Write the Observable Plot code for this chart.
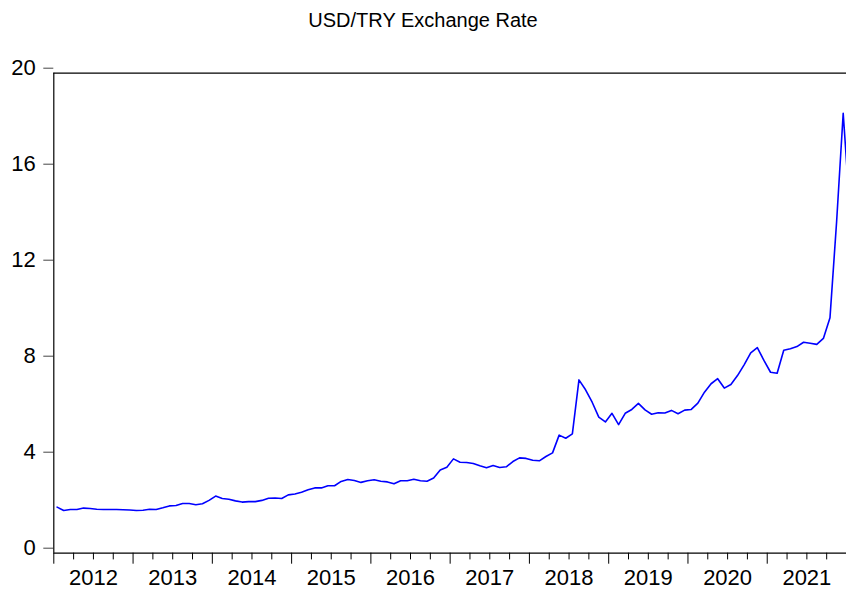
<!DOCTYPE html>
<html><head><meta charset="utf-8">
<script src="https://cdn.jsdelivr.net/npm/d3@7"></script>
<script src="https://cdn.jsdelivr.net/npm/@observablehq/plot@0.6"></script>
<style>
body{margin:0;background:#fff;overflow:hidden;font-family:"Liberation Sans",Arial,sans-serif;}
#title{width:846px;height:44px;line-height:40px;text-align:center;font-size:20px;color:#000;}
#chart svg{display:block;}
</style></head><body>
<div id="title">USD/TRY Exchange Rate</div>
<div id="chart"></div>
<script>
const startYear = 2012;
const yearLabels = ["2012","2013","2014","2015","2016","2017","2018","2019","2020","2021"];
const yTicks = [0, 4, 8, 12, 16, 20];
// monthly values, Jan 2012 .. Jan 2022
const usdtry = [
  1.92, 1.78, 1.82, 1.82, 1.88, 1.86, 1.83, 1.82, 1.82, 1.82, 1.81, 1.80,
  1.78, 1.79, 1.83, 1.82, 1.89, 1.97, 1.99, 2.07, 2.07, 2.02, 2.06, 2.20,
  2.38, 2.28, 2.25, 2.18, 2.13, 2.15, 2.15, 2.20, 2.29, 2.30, 2.28, 2.43,
  2.47, 2.54, 2.64, 2.72, 2.72, 2.81, 2.81, 2.99, 3.07, 3.03, 2.95, 3.02,
  3.06, 3.00, 2.97, 2.89, 3.02, 3.02, 3.08, 3.02, 3.00, 3.13, 3.47, 3.58,
  3.93, 3.79, 3.78, 3.74, 3.64, 3.56, 3.65, 3.57, 3.60, 3.82, 3.97, 3.95,
  3.87, 3.85, 4.03, 4.18, 4.92, 4.79, 4.97, 7.22, 6.81, 6.29, 5.67, 5.47,
  5.83, 5.36, 5.83, 5.99, 6.24, 5.97, 5.79, 5.85, 5.84, 5.95, 5.81, 5.96,
  5.99, 6.25, 6.71, 7.06, 7.27, 6.88, 7.03, 7.40, 7.85, 8.35, 8.57, 8.03,
  7.54, 7.50, 8.46, 8.52, 8.61, 8.79, 8.75, 8.70, 8.95, 9.81, 13.8, 18.33,
  14.3
];

const data = usdtry.map((v, i) => ({t: startYear + (i + 0.5) / 12, v}));
const nYears = yearLabels.length;
const yearStarts = d3.range(startYear, startYear + nYears + 1);
const quarterTicks = d3.range(0, nYears * 4).filter(q => q % 4 !== 0).map(q => startYear + q / 4);
const labelData = yearLabels.map((s, i) => ({x: startYear + i + 0.5, s}));

const chart = Plot.plot({
  width: 846,
  height: 548,
  marginLeft: 53.3,
  marginRight: 0,
  marginTop: 28.7,
  marginBottom: 39.3,
  x: {domain: [startYear, startYear + nYears], label: null},
  y: {domain: [0, 20], label: null},
  style: {fontFamily: "'Liberation Sans', Arial, sans-serif", fontSize: "22px", color: "#000", background: "#fff"},
  marks: [
    Plot.axisY(yTicks, {anchor: "left", tickSize: 10, tickPadding: 8, dy: -5, fontSize: 22, stroke: "#444", fill: "#000"}),
    Plot.axisX(yearStarts, {anchor: "bottom", tickSize: 11, tickFormat: () => "", stroke: "#000"}),
    Plot.axisX(quarterTicks, {anchor: "bottom", tickSize: 6.7, tickFormat: () => "", stroke: "#000"}),
    Plot.text(labelData, {x: "x", text: "s", frameAnchor: "bottom", lineAnchor: "top", dy: 16.5, fontSize: 22, fill: "#000"}),
    Plot.ruleY([20], {stroke: "#000", strokeWidth: 1.2}),
    Plot.ruleY([0], {stroke: "#000", strokeWidth: 1.2}),
    Plot.ruleX([startYear], {stroke: "#000", strokeWidth: 1.2}),
    Plot.line(data, {x: "t", y: "v", stroke: "#0000ff", strokeWidth: 1.6, clip: true})
  ]
});
document.getElementById("chart").appendChild(chart);
</script>
</body></html>
